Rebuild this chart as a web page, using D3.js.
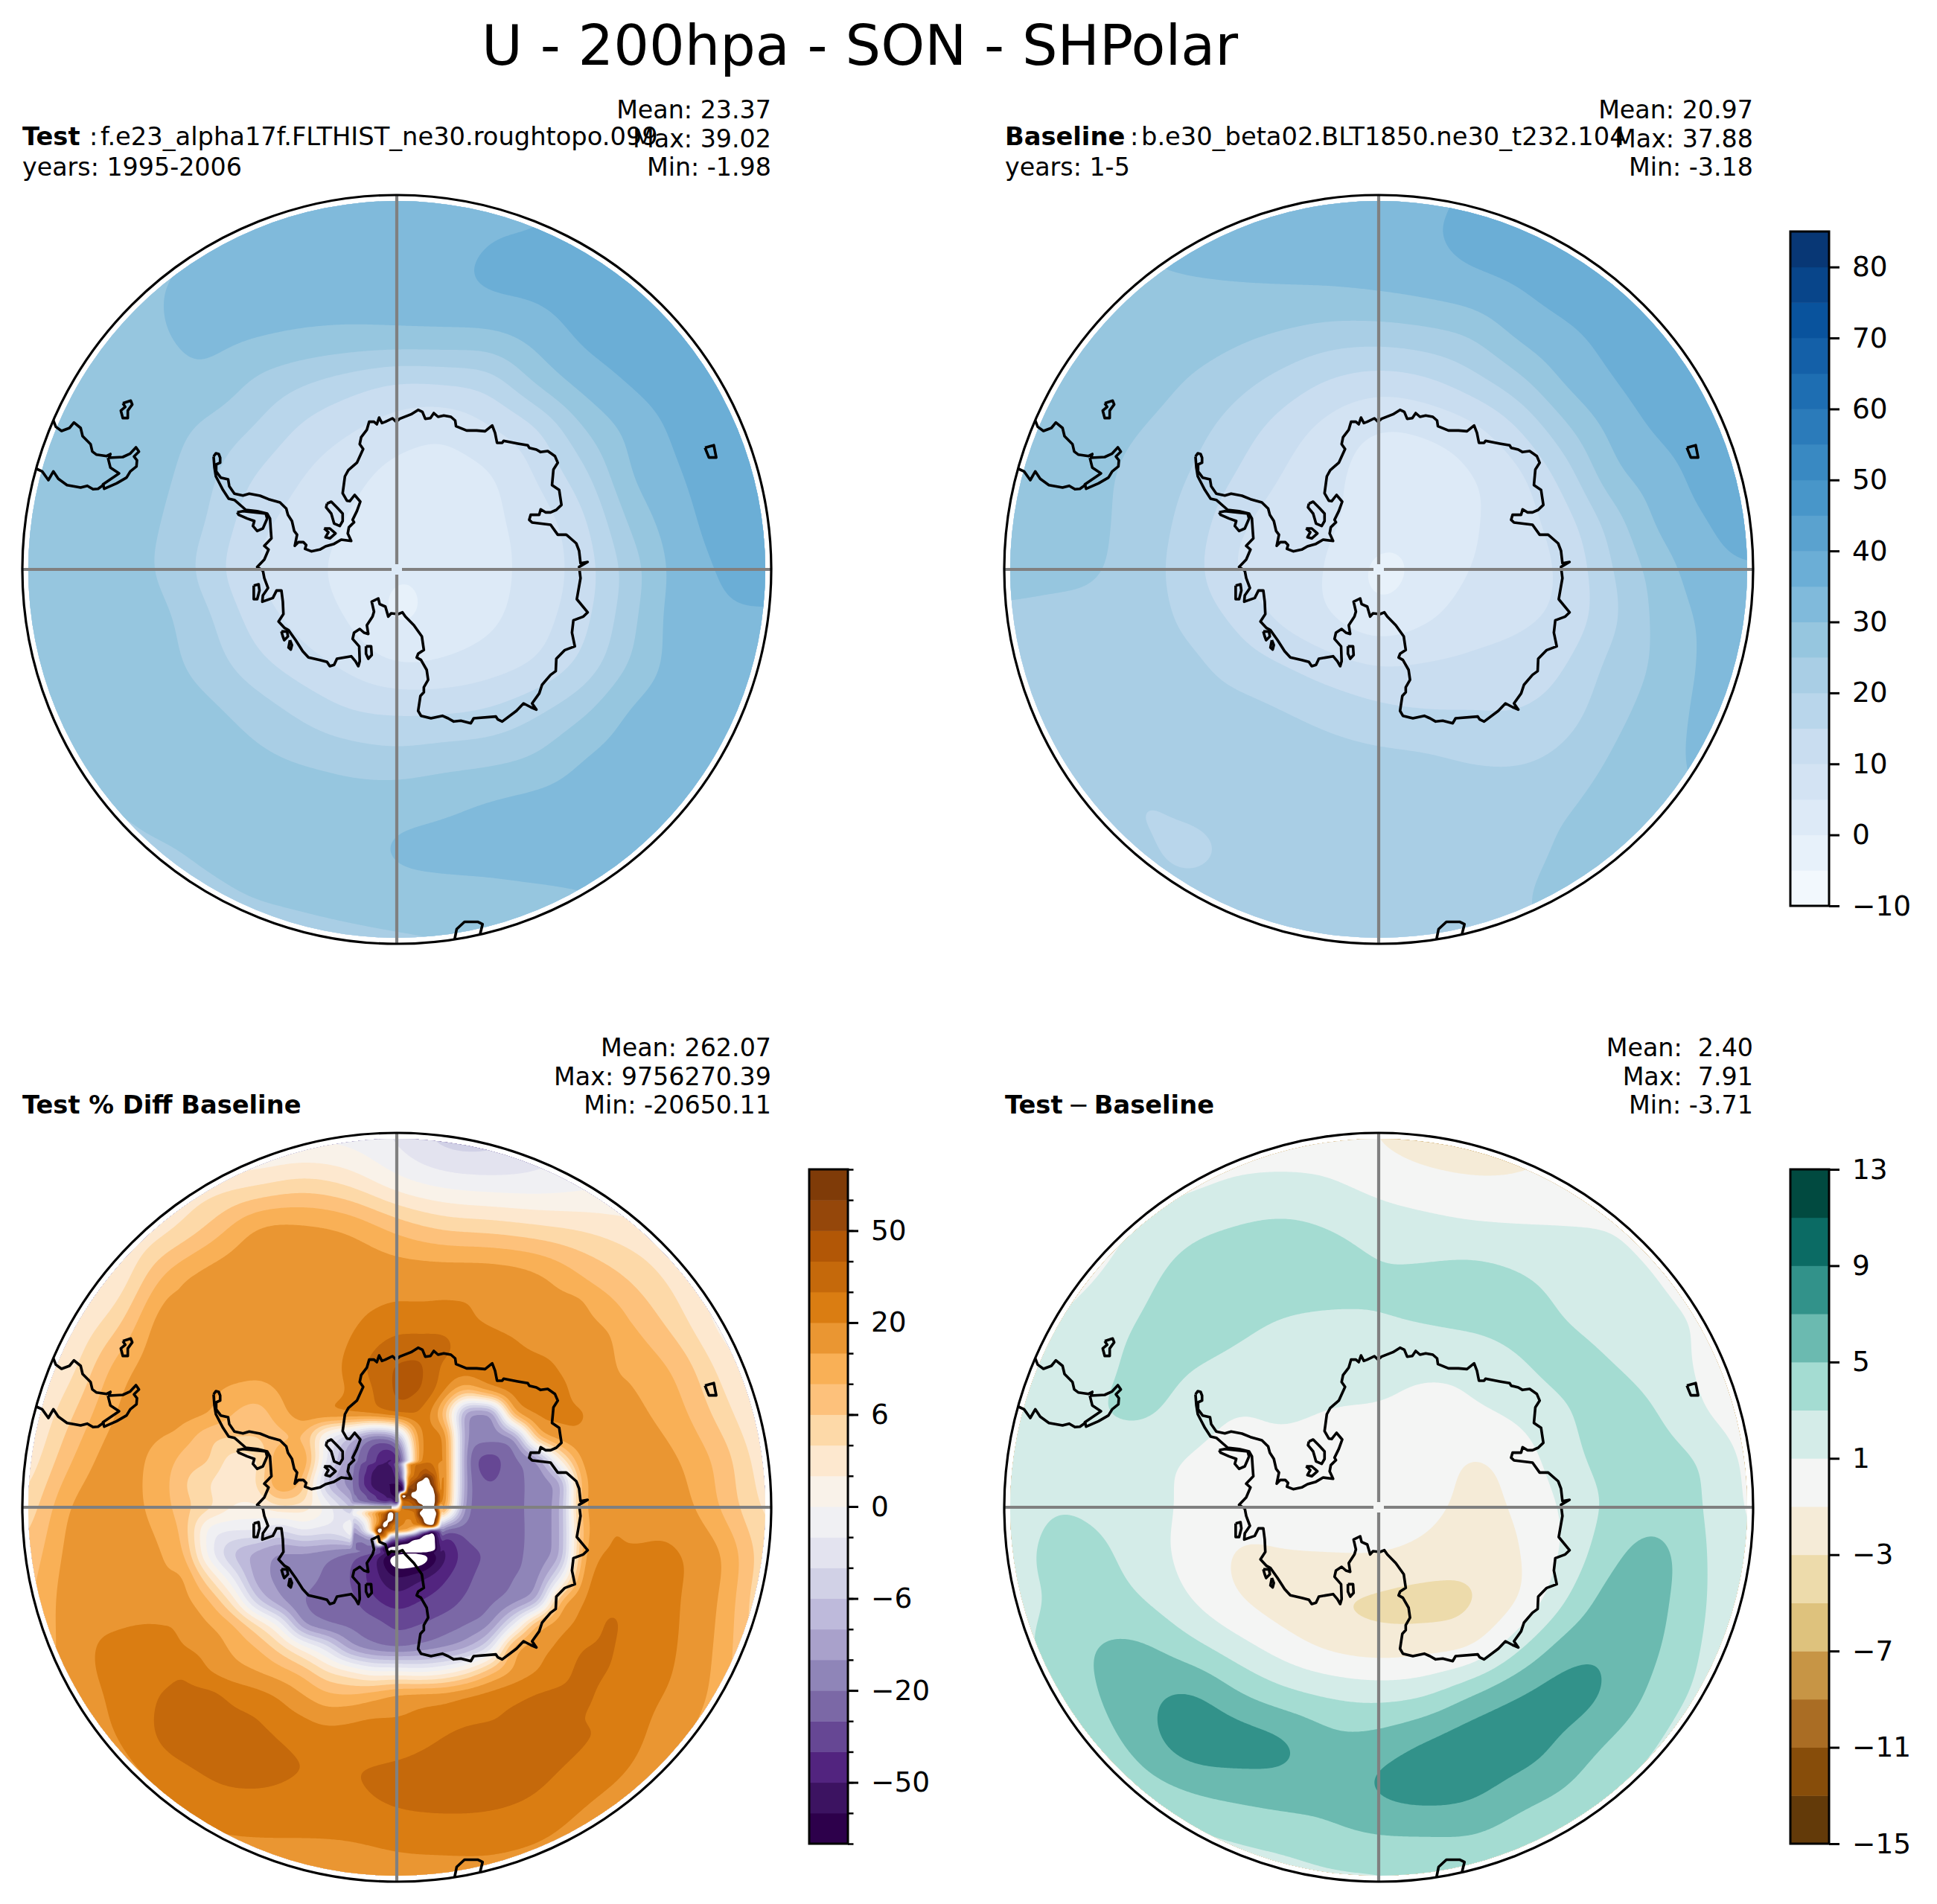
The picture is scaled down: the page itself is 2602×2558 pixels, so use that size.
<!DOCTYPE html>
<html>
<head>
<meta charset="utf-8">
<script src="https://cdn.jsdelivr.net/npm/d3@7"></script>
<style>
  html, body { margin: 0; background: #fff; }
  text { font-family: "DejaVu Sans"; fill: #000; white-space: pre; }
</style>
</head>
<body>
<div id="chart"></div>
<script>
// contour levels
const valueLevels = [-10,-5,0,5,10,15,20,25,30,35,40,45,50,55,60,65,70,75,80,85];
const valueTicks = [-10,0,10,20,30,40,50,60,70,80];
const pctLevels = [-90,-70,-50,-40,-30,-20,-15,-10,-6,-4,-2,0,2,4,6,10,15,20,30,40,50,70,90];
const pctTicks = [-50,-20,-6,0,6,20,50];
const diffLevels = [-15,-13,-11,-9,-7,-5,-3,-1,1,3,5,7,9,11,13];
const diffTicks = [-15,-11,-7,-3,1,5,9,13];

// band colours, lowest band first
const pctColors = ["#2d004b","#3c1361","#52247f","#664794","#7b68a6","#8f85b8","#a9a1cb","#bebadb","#d1d1e6","#e3e3ef","#f0f0f3",
  "#f9f2e9","#fde8cf","#fdd9a8","#fdc17b","#f9b056","#ea9632","#da7d12","#c5690b","#b25706","#95470a","#7f3b08"];
const diffColors = ["#633a09","#874d0a","#aa6d24","#c79545","#dec27d","#eddbab","#f5ebd7","#f4f5f4","#d4ece8","#a4dcd2","#6bbab0","#32928a","#0b6b64","#014a40"];

// fields, 17x17 nodes over the map square, top row first
const testGrid = [
[28,28,28.5,29,29.5,30.5,31.5,32,32.5,33,33.5,34,35.5,36.5,37,37,37],
[27.5,27.5,28,29,30.5,31.5,32,32.5,33,33.5,35,35.5,36.5,37,37.5,37.5,37.5],
[27,27,28,30,31,31.5,32,32,32.5,33.5,35.5,36,37,37.5,38,38,38],
[26.5,26.5,28,29.8,31,30.5,29.5,29,29,29,29,32,36,37,38,38.5,38.5],
[26,26,27,28.5,28.8,24,20.5,17.5,15,15.5,17.5,26,32,35.5,37.5,38.5,38.5],
[26,26,26.5,27,23.5,19.5,14,10.5,7.5,6,9.5,14.5,25,31.5,36,38.5,38.5],
[27,27,27,26,21,14.7,10,6.5,3.5,3.5,4.5,10.5,18.5,30,34.5,38,38.5],
[27.5,27.5,27,25,19.5,11.5,8,4.5,2.5,2,4,7.5,14,26,33,37,38],
[28,27.5,26.5,24.5,17.5,10,6.5,3.5,0.5,1.5,3.5,7,12.5,22.5,32,35.5,37],
[28,27.5,27,26,20.5,12.5,8,4.5,-1,2,4,8,13.5,23.5,32.5,34.5,34.5],
[28,28,27.5,26.5,22.5,16.5,12,8.5,5,5.5,7.5,10.5,16.5,25.5,32,33.5,34],
[28,28,28,27.5,26,22.5,18.5,15,14,14.2,15.5,19,24,30.5,32.5,33,33.5],
[27,27.5,28,28,27.5,26,24,22.5,21.5,22.5,23.3,25.5,30,32,33,33,33],
[26,26,25.2,27,28,28.5,28.5,27.5,28,29,30.5,31.5,32,32,32,32,32],
[24,24,24,24.5,26,27,27.5,28.5,30.5,31,31,31.5,31.5,31,30.5,30.5,30.5],
[23,23,23,23,24,25.2,26,27,28,28.5,29,29.3,29.8,30.3,30.5,30.5,30.5],
[22.5,22.5,22.5,22.5,22.5,22.5,23,23.5,24,24.5,25.5,27,28.5,30,30.5,30.5,30.5]
];
const baselineGrid = [
[29,30,31,31.5,32,32.5,33,33,33.5,34,35.5,37,37.5,38,38,38,38],
[29,29,29.5,30.5,32,32.5,32.8,33,33.5,34.2,36.5,37.5,38,38,38,38,38],
[28,28.5,28.8,29,29.2,29.5,29.7,29.9,30.5,31.5,33,35,37,38,38,38,38],
[27.5,27.8,28,28,27.5,26,24.3,22.6,22.3,23.3,25.5,31,34,36.5,38,38,38],
[27.5,27.5,27.5,27,24.5,21.5,18,14.3,12.5,13.9,18,23.5,30.7,34.8,37.5,38.5,38.5],
[27,27,26.8,24.9,21.8,17.5,12.5,8,5,5.7,8.5,15,24,31.5,35.8,38,38],
[26.5,26.5,26,23,19.8,14.5,9.5,6,3,3,4.8,9,17.5,28.5,32.5,37,38.5],
[26,26,25.8,22.5,18,11,7.5,5.6,2.5,2,4.5,7.8,13,22.5,31,34.8,38],
[26,26,25.4,22,17,9.5,7,4.5,-1.5,1.5,5.2,8,11,20,27.5,33,34.5],
[24.5,24,23.5,22,18.5,13.5,8.5,5,1.5,4,7.5,9,11.5,19,26.5,31,32],
[23.5,23,23,22,21,17.5,14.7,11.5,9.5,10.2,11,12,14.7,21.5,26,31,32],
[23,23,22.5,22,22,21.5,20,18,16,15,15,15,17.5,23.5,27,31.5,32],
[22,22,22,22,22,22,22,21.5,21,20.5,19.3,19,21.3,25.5,28,31.5,32],
[22,22,21.5,19.8,21,22,22.5,22.5,23,23,23,23.5,24.5,27,28.5,30,31],
[22,22,21.5,20.5,19,21,22,22.5,23,23,23,24,25.5,27,28.5,29,30],
[22,22,22,21.5,21.5,22,22.5,22.5,23,23,23.5,24.7,26,27.5,28,29,30],
[22,22,22,22,22,22,22.5,23,23,23.5,24,24.5,25.5,27,28,29,30]
];
const diffGrid = [
[0,0,0,0,0,0,0.2,0,-1.2,-2,-2,-2,-1.2,0,0,0,0],
[0,0,0,0,0.5,1.1,1.2,1,0.2,-0.5,-0.9,-0.8,-0.2,0,0,0,0],
[0,0,0,1.4,2.5,3.1,3.4,2.9,2.1,1.7,1.3,1.1,1,0.9,0.3,0,0],
[0,0,0.9,2.5,3.7,4,4,3.8,3.2,3.3,3.6,3.1,2.3,1.6,0.9,0,0],
[0,0.9,2,3.2,3.8,3.4,2.9,2.7,2.9,3.2,3.5,3.6,3,2.2,1.5,0.7,0],
[0.7,1.4,2.4,3.6,3.1,2.5,2.1,1.8,1.6,1.3,1.5,2.8,3.6,3.1,2,0.6,0],
[1.2,1.8,2.9,3.3,2,0.95,1.4,0.9,0.8,0.5,0.7,1.4,2.8,3.9,3,1,0],
[0.9,1.5,1.9,1.6,0.8,0.3,0,-0.8,-0.9,0,-1.2,-0.1,2.3,3.7,3.8,2.7,0.3],
[1.5,2.9,2.6,1.9,0.5,-0.1,-0.1,0,0.3,-0.4,-1.5,-0.7,1.4,3.5,4.2,2.9,0.5],
[2,3.5,3.4,2,0.2,-1.2,-1.1,-1,-1,-1.6,-2.2,-1.1,1.4,4.6,5.6,3,1],
[2,3.2,3.9,3,1,-0.9,-2,-2.9,-3.4,-3.7,-3.2,-1,3,6,5.5,3,1],
[2,3.7,5.1,5.3,3.7,1.8,0,-1.4,-1.9,-1.6,-1,2.7,6,6.7,5.1,2.7,1],
[1.5,3,5,6.5,7.2,5.2,3.6,2.7,2.3,2.8,5,7,7.9,6.6,4.2,2.3,1],
[1,2,3.9,6.2,8.2,8,7.3,5.6,5.8,7.1,8.2,8.2,6.6,4.8,3,1.5,1],
[1,1,2,4,5.3,5.9,6.2,6,7.3,8,7.6,6.2,5,3.2,2,1.2,1],
[1,1,1,1.5,2.7,3.3,3.8,4.5,5,5.05,5,4,2.9,1.7,1,1,1],
[1,1,1,1,1.5,2,2.2,2.5,2.6,2.9,3,2.8,2,1.5,1,1,1]
];
const pctGrid = [
[-1,-1,-1,-1,-1,-1,-1,-1,-2.5,-5,-5,-3,-1,0,0,1,1],
[0,0,1,2,2.5,3,4.2,3,0.3,-1.2,-1.7,-1.6,-0.9,0,0,0,0],
[0,0,1.5,3,6.5,15.5,16,14,8.5,5.5,5,4.2,3.5,2.5,1.5,0.5,0],
[0,1,2,10,17,18,18,18.5,18,18,18,15.8,9.5,5.5,3,1,0.5],
[0,1.8,5,18,18,18,18,19.5,25,24,21.5,18,15.5,10,4.8,1,0.5],
[1,3,12,18,17.5,15.3,18,20.5,42,26,26,25,16.5,14,9,3,0.5],
[1,5.5,15.5,18,15.5,8,18,22,28,8,-18,18,21,16.5,12,4.8,1],
[2,9.5,18,12,6,5,15,-15,-45,25,-35,-12,18,18,15.5,8,2],
[4,15.5,18,12,4.5,2.5,6,-3,0,60,-25,-20,16,17,17.5,9,3],
[6,17,18,15.5,3,-12,-17,-25,-100,-45,-28,-17,16,21,21,15,4],
[8,18,18,18,14,-4,-22,-25,-38,-36,-25,-12,21,28,20.5,14,3],
[8,18,22,24,18,10,1,-18,-22,-18,-8,18,30,28,20,13,3],
[9,18,21,31,31.5,23,15,8,15,16.5,23,30.5,32,24,19,12,3],
[12,18,19.5,32,34,33,28,26,25,30.2,34,35,31,23,16,10,3],
[15,15,16,21,29,30.5,29,29,34,36,35,31,23,18.5,14,10,3],
[15,15,15,17,19.5,20.5,20.5,21,23,24,24,21.5,18,16,13,10,5],
[15,15,15,15,16,16,16.5,17,18,18,18,17,16,15,13,10,5]
];
// finer nodes for the % diff field around the pole, 21x21 over +-0.625 of the radius
const pctMidGrid = [
[10,14,17,18,18,18,18,18,18.5,18.5,18,18,18,18,18,17,15.8,13,9.5,7,5.5],
[14,17,18,18,18,18,18,18,18.5,19,19.5,19.5,19.8,19.8,19,18,17.5,16,14.5,10.5,8],
[18,18,18,18,18,18,18,18,19,22,25,24.5,23.5,21,19.5,18.5,18,17.5,16,14,11],
[18,18,18,18,18,18,18,18,20.5,28,33,34,33,24,23,21,18.5,18,17,15.8,13],
[18,18,18,17.5,17,17,18,18,23,33,41,42,28,25,25,25.5,24,19.5,17.5,16,14],
[18,17.5,16,14,13,15.5,18,18.5,21,30,42,41,22,10,19,24,24,22,18,16.5,14.5],
[17,16.5,15,10,8,13,18,20,23,27,32,28,9,-16,-18,12,22,21,20.5,17,16],
[15.5,12,7,6,6,9,10,-1,-6,-20,-12,22,25,-17,-18,-15,8,18,19,17.5,16.5],
[12,8,6,3,3.5,15,15,-2,-15,-38,-60,25,26,-18,-35,-22,-15,2,17,18,18],
[10,6,4,2.5,4,15,8,-6,-18,-35,-80,60,25,-17,-30,-23,-18,-12,15,17,18],
[12,7,4.5,2,1.5,3.5,3,-0.5,-6,-20,0,45,20,-20,-25,-22,-18,-10,15,17.5,17.5],
[15.5,7,-1,-2,-2,-4,-2,-3,0,30,30,25,-30,-25,-22,-22,-18,-10,12,19,21],
[16,9,-1,-6,-12,-16,-16,-18,-25,-45,-120,-120,-55,-35,-28,-22,-18,-10,14,21,21],
[18,14,4,-2,-12,-16,-18,-22,-30,-45,-70,-55,-42,-32,-25,-20,-16,-2,17,24,25],
[18,16,10,3,-5,-14,-20,-23,-27,-38,-45,-40,-35,-28,-22,-17,-8,10,20,28,28],
[21,18,15,10,4,-1,-14,-20,-22,-26,-32,-30,-25,-20,-15,-2,10,18,23,31,29],
[24,20,18,14,10,5,1,-3,-12,-18,-20,-18,-15,-10,-3,12,18,22,30,31,28],
[30,28,20,17,15,12,8,4,2,0,0,-0.5,0.5,3,8,16,20,26,33,30,27],
[31,32,32.5,27,23,19,15,11,10,12,15,16,16.5,19,23,27,30.5,32,32,27,24],
[32,33,33,32,30,25,20.5,18,19,20,20,22,24,27,29,32,33,33,30,27,25],
[31,33,34,34,33,31,28,25,25,25,25,27,30.2,33,34,35,35,33,31,27,23]
];
// innermost nodes for the % diff field, 17x17 over +-0.125 of the radius
const pctCoreGrid = [
[-15,-20,-30,-35,-38,-42,-50,-40,-20,-3,15,25,30,30,28,22,6],
[-18,-22,-32,-40,-45,-55,-55,-50,-30,-8,14,28,35,38,32,22,6],
[-18,-24,-35,-42,-52,-60,-60,-60,-38,-12,12,30,40,45,38,25,8],
[-20,-25,-36,-45,-55,-62,-65,-65,-45,-15,18,35,50,95,60,28,9],
[-20,-25,-36,-45,-55,-62,-70,-70,-70,-40,25,60,120,120,75,30,10],
[-20,-24,-32,-40,-48,-55,-62,-72,-90,-70,80,70,120,120,110,35,10],
[-18,-20,-25,-32,-38,-45,-50,-65,-75,120,70,120,120,120,120,50,12],
[-15,-17,-20,-25,-30,-35,-40,-35,-60,30,40,50,120,120,120,50,12],
[-5,-3,-3,-3,-4,-4,-4,-3,0,30,35,40,50,120,120,30,-5],
[0,0,2,6,12,25,40,120,35,25,25,30,95,120,120,60,-5],
[-5,-4,-1,3,10,20,60,120,28,22,20,25,50,120,120,40,-12],
[-8,-7,-4,1,10,30,120,40,25,20,18,20,25,70,110,10,-25],
[-15,-12,-6,-1,10,120,40,25,15,12,8,2,-5,-12,-35,-30,-28],
[-20,-18,-15,-10,-8,30,20,-5,-8,-12,-20,-35,-60,-120,-120,-50,-40],
[-20,-20,-20,-18,-15,10,-10,-40,-55,-65,-80,-120,-120,-120,-120,-60,-42],
[-20,-20,-22,-22,-25,-35,-65,-100,-100,-120,-120,-120,-120,-120,-120,-65,-45],
[-20,-20,-22,-25,-28,-40,-80,-120,-120,-120,-120,-120,-120,-120,-85,-55,-42]
];

// coastlines as traced on crops of the picture
const antarctica = [[97,340],[105,327],[115,330],[120,345],[120,365],[106,372],[106,400],[122,425],[148,432],[152,460],[170,490],[200,497],[222,490],[260,498],[290,512],[330,525],[352,550],[358,575],[372,600],[380,640],[390,655],[382,700],[395,685],[412,685],[422,697],[418,712],[440,722],[470,715],[490,702],[520,692],[545,675],[580,680],[568,650],[572,625],[590,605],[585,595],[600,560],[612,522],[592,495],[575,520],[565,518],[550,488],[558,420],[570,395],[600,365],[622,310],[610,290],[615,262],[635,232],[643,200],[660,200],[670,210],[678,183],[688,205],[700,200],[725,186],[738,200],[750,188],[790,170],[815,152],[830,160],[840,188],[858,185],[870,165],[885,180],[905,175],[930,180],[945,195],[948,218],[985,235],[1020,235],[1050,238],[1075,215],[1085,245],[1092,285],[1110,285],[1115,277],[1165,288],[1200,295],[1205,305],[1230,312],[1245,322],[1270,318],[1295,338],[1305,365],[1290,392],[1285,455],[1310,475],[1318,535],[1300,555],[1280,565],[1262,565],[1245,553],[1240,575],[1210,575],[1205,595],[1215,606],[1280,615],[1305,655],[1335,655],[1370,690],[1380,720],[1385,770],[1410,765],[1380,785],[1385,830],[1372,915],[1410,968],[1395,985],[1360,1000],[1355,1050],[1365,1105],[1330,1120],[1300,1155],[1298,1205],[1280,1220],[1250,1260],[1240,1295],[1215,1335],[1230,1360],[1210,1350],[1185,1335],[1160,1365],[1110,1408],[1095,1400],[1088,1388],[1010,1395],[1000,1415],[965,1405],[940,1408],[920,1395],[900,1385],[860,1395],[825,1385],[815,1365],[823,1305],[835,1290],[835,1270],[850,1240],[845,1200],[825,1160],[810,1150],[815,1135],[835,1120],[828,1065],[800,1020],[770,985],[760,968],[745,975],[720,972],[710,985],[700,945],[680,935],[675,912],[652,925],[660,965],[655,985],[635,1020],[640,1055],[625,1050],[610,1035],[590,1050],[585,1075],[608,1105],[610,1165],[605,1185],[595,1165],[580,1145],[530,1155],[520,1180],[505,1185],[495,1168],[470,1160],[430,1150],[410,1125],[385,1080],[360,1040],[345,1030],[325,1005],[342,975],[340,925],[335,880],[318,880],[305,910],[268,925],[270,900],[288,870],[275,830],[270,800],[250,785],[275,755],[290,715],[275,700],[300,670],[298,640],[295,590],[285,570],[250,560],[210,555],[170,515],[150,510],[130,475],[105,420],[100,385],[97,340]];
const antarcticIslands = [
[[180,565],[200,560],[280,570],[285,590],[270,630],[250,640],[235,620],[240,600],[215,590],[185,575],[180,565]],
[[495,530],[510,522],[530,545],[550,570],[550,600],[540,620],[520,610],[510,570],[492,545],[495,530]],
[[485,630],[505,630],[525,650],[505,670],[490,665],[500,645],[485,630]],
[[238,860],[255,855],[258,880],[250,915],[238,915],[238,860]],
[[335,1045],[355,1045],[358,1065],[345,1080],[340,1065],[335,1045]],
[[365,1080],[372,1100],[368,1118],[360,1110],[365,1080]],
[[632,1105],[650,1105],[652,1140],[640,1155],[632,1135],[632,1105]]
];
const southAmerica = [
[[215,195],[225,220],[248,237],[280,225],[298,203],[325,225],[333,258],[365,290],[372,320],[388,332],[430,338],[445,330],[440,345],[495,342],[525,328],[548,303],[560,320],[540,340],[552,355],[550,380],[525,400],[510,425],[470,448],[420,470],[415,452],[480,408],[445,385],[435,345]],
[[148,390],[170,400],[195,435],[215,400],[235,430],[270,455],[325,465],[352,458],[375,472],[395,470],[420,452]],
[[495,125],[527,115],[533,130],[515,155],[515,185],[495,185],[487,155],[505,140],[495,125]]
];
const farIslands = [
[[1410,535],[1428,530],[1433,555],[1418,555],[1410,535]],
[[897,1545],[902,1520],[918,1505],[945,1505],[955,1510],[950,1530]]
];

const W = 2602, H = 2558;
const R = 503, fillR = 495;   // map edge and edge of the filled data
const samples = 504;

const svg = d3.select("#chart").append("svg").attr("width", W).attr("height", H);

// scales from the three crops the coast was traced on to map units (-1..1)
const mapTo = (lo, hi) => d3.scaleLinear().domain([lo, hi]).range([-1, 1]);
const coastSets = [
  {lines:[antarctica, ...antarcticIslands], x:mapTo(740-1314.4,740+1314.4), y:mapTo(795-1509,795+1509)},
  {lines:southAmerica, x:mapTo(90,3108), y:mapTo(-714,2304)},
  {lines:farIslands, x:mapTo(779.5-766,779.5+766), y:mapTo(784-766,784+766)}
];

function bandColors(scheme, n){
  const ramp = d3.scaleLinear().domain(scheme.map((_,i)=>i/(scheme.length-1))).range(scheme);
  return d3.range(n).map(i=>ramp((i+0.5)/n));
}
const blues = bandColors(d3.schemeBlues[9], valueLevels.length-1);

// cubic between p1 and p2; with limit on it can't overshoot across the steep rims
function hermite(p0,p1,p2,p3,t,limit){
  const d = p2-p1;
  let m1 = (p2-p0)/2, m2 = (p3-p1)/2;
  if(limit){
    if(m1*d<=0) m1 = 0;
    if(m2*d<=0) m2 = 0;
    if(Math.abs(m1)>3*Math.abs(d)) m1 = 3*d;
    if(Math.abs(m2)>3*Math.abs(d)) m2 = 3*d;
  }
  const t2 = t*t, t3 = t2*t;
  return (2*t3-3*t2+1)*p1+(t3-2*t2+t)*m1+(-2*t3+3*t2)*p2+(t3-t2)*m2;
}

function makeSampler(rows, extent, toBand, limit){
  const n = rows.length;
  const vals = rows.map(r=>r.map(toBand));
  const step = 2*extent/(n-1);
  const c = i=>Math.max(0,Math.min(n-1,i));
  return (u,v)=>{
    const fx = Math.max(0,Math.min(n-1,(u+extent)/step)), fy = Math.max(0,Math.min(n-1,(v+extent)/step));
    const ix = Math.min(n-2,Math.floor(fx));
    const iy = Math.min(n-2,Math.floor(fy));
    const tx = fx-ix, ty = fy-iy;
    const col = [-1,0,1,2].map(j=>{
      const r = vals[c(iy+j)];
      return hermite(r[c(ix-1)],r[c(ix)],r[c(ix+1)],r[c(ix+2)],tx,limit);
    });
    return hermite(col[0],col[1],col[2],col[3],ty,limit);
  };
}

// grids: coarsest first, later ones are blended in over their own square.
// each layer gets its own blur so the coarse node spacing doesn't show
function fieldValues(grids, levels){
  const toBand = d3.scaleLinear().domain(levels).range(levels.map((_,i)=>i));
  const pos = d3.scaleLinear().domain([0,samples-1]).range([-1,1]);
  const values = new Float64Array(samples*samples);
  grids.forEach((g,k)=>{
    const f = makeSampler(g.rows,g.extent,toBand,k>0);
    const layer = new Float64Array(samples*samples);
    for(let j=0;j<samples;j++) for(let i=0;i<samples;i++) layer[j*samples+i] = f(pos(i),pos(j));
    if(g.blur) d3.blur2({data:layer,width:samples,height:samples},g.blur);
    for(let j=0;j<samples;j++) for(let i=0;i<samples;i++){
      const d = k===0 ? 0 : Math.max(Math.abs(pos(i)),Math.abs(pos(j)))/g.extent;
      if(d>=1) continue;
      const w = d<0.9 ? 1 : (1-d)/0.1;
      const at = j*samples+i;
      values[at] += (layer[at]-values[at])*w*w*(3-2*w);
    }
  });
  return values;
}

function drawMap(cfg){
  const g = svg.append("g").attr("transform",`translate(${cfg.cx},${cfg.cy})`);
  const clipData = `clip-data-${cfg.id}`, clipMap = `clip-map-${cfg.id}`;
  g.append("clipPath").attr("id",clipData).append("circle").attr("r",fillR);
  g.append("clipPath").attr("id",clipMap).append("circle").attr("r",R);

  const cell = d3.scaleLinear().domain([0.5,samples-0.5]).range([-R,R]);
  const project = d3.geoTransform({point(x,y){ this.stream.point(cell(x),cell(y)); }});
  const path = d3.geoPath(project);
  const values = fieldValues(cfg.grids, cfg.levels);
  const contours = d3.contours().size([samples,samples]);
  const bands = cfg.colors.map((c,i)=>({t:i,c}));
  bands.push({t:cfg.colors.length,c:"#fff"});   // off the scale stays white

  g.append("g").attr("clip-path",`url(#${clipData})`)
    .selectAll("path").data(bands).join("path")
    .attr("fill",d=>d.c)
    .attr("d",d=>path(contours.contour(values,d.t)));

  const mapX = d3.scaleLinear().domain([-1,1]).range([-R,R]);
  const coast = d3.line();
  const coastG = g.append("g").attr("clip-path",`url(#${clipMap})`);
  coastSets.forEach(set=>{
    coastG.selectAll(null).data(set.lines).join("path")
      .attr("fill","none").attr("stroke","#000").attr("stroke-width",3.6).attr("stroke-linejoin","round")
      .attr("d",d=>coast(d.map(p=>[mapX(set.x(p[0])),mapX(set.y(p[1]))])));
  });

  // meridians stop just short of the pole
  const gap = 7;
  const spokes = [[-R,0,-gap,0],[gap,0,R,0],[0,-R,0,-gap],[0,gap,0,R]];
  g.selectAll("line.grid").data(spokes).join("line").attr("class","grid")
    .attr("x1",d=>d[0]).attr("y1",d=>d[1]).attr("x2",d=>d[2]).attr("y2",d=>d[3])
    .attr("stroke","#808080").attr("stroke-width",4.2);

  g.append("circle").attr("r",R).attr("fill","none").attr("stroke","#000").attr("stroke-width",3.2);
}

function drawStats(right, baselines, lines){
  svg.append("g").selectAll("text").data(lines).join("text")
    .attr("x",right).attr("y",(d,i)=>baselines[i])
    .attr("text-anchor","end").attr("font-size",33.3).text(d=>d);
}

function drawColorbar(cfg){
  const n = cfg.levels.length-1;
  const y = d3.scaleLinear().domain(cfg.levels).range(cfg.levels.map((_,i)=>cfg.h-i*cfg.h/n));
  const g = svg.append("g").attr("transform",`translate(${cfg.x},${cfg.y})`);
  g.selectAll("rect.band").data(cfg.colors).join("rect").attr("class","band")
    .attr("x",0).attr("width",cfg.w)
    .attr("y",(d,i)=>y(cfg.levels[i+1])).attr("height",cfg.h/n+0.5)
    .attr("fill",d=>d);
  if(cfg.minor){
    const minor = g.append("g").attr("transform",`translate(${cfg.w},0)`)
      .call(d3.axisRight(y).tickValues(cfg.levels).tickSize(7.5).tickFormat(""));
    minor.select(".domain").remove();
    minor.selectAll("line").attr("stroke-width",2.5);
  }
  const axis = g.append("g").attr("transform",`translate(${cfg.w},0)`)
    .call(d3.axisRight(y).tickValues(cfg.ticks).tickSize(14).tickPadding(17).tickFormat(d3.format("d")));
  axis.select(".domain").remove();
  axis.selectAll("line").attr("stroke-width",3);
  axis.selectAll("text").attr("font-size",37.5).attr("font-family","DejaVu Sans");
  g.append("rect").attr("width",cfg.w).attr("height",cfg.h)
    .attr("fill","none").attr("stroke","#000").attr("stroke-width",3);
}

// title
svg.append("text").attr("x",1155).attr("y",87).attr("text-anchor","middle").attr("font-size",75)
  .text("U - 200hpa - SON - SHPolar");

// panel headers: bold name, colon, then the case name
function drawHeader(x, name, colonX, restX, rest, baseline){
  const t = svg.append("text").attr("y",baseline).attr("font-size",33.7);
  t.append("tspan").attr("x",x).attr("font-weight","bold").text(name);
  t.append("tspan").attr("x",colonX).text(":");
  t.append("tspan").attr("x",restX).text(rest);
}
drawHeader(30,"Test",120,135,"f.e23_alpha17f.FLTHIST_ne30.roughtopo.099",195);
svg.append("text").attr("x",30).attr("y",236).attr("font-size",33.3).text("years: 1995-2006");
drawHeader(1350,"Baseline",1518,1533,"b.e30_beta02.BLT1850.ne30_t232.104",195);
svg.append("text").attr("x",1350).attr("y",236).attr("font-size",33.3).text("years: 1-5");
svg.append("text").attr("x",30).attr("y",1496).attr("font-size",33.7).attr("font-weight","bold").text("Test % Diff Baseline");
const tb = svg.append("text").attr("x",1350).attr("y",1496).attr("font-size",33.7);
tb.append("tspan").attr("font-weight","bold").text("Test");
tb.append("tspan").attr("dx",7).text("\u2212");
tb.append("tspan").attr("dx",7).attr("font-weight","bold").text("Baseline");

drawStats(1036,[159,198,236],["Mean: 23.37","Max: 39.02","Min: -1.98"]);
drawStats(2355,[159,198,236],["Mean: 20.97","Max: 37.88","Min: -3.18"]);
drawStats(1036,[1419,1458,1496],["Mean: 262.07","Max: 9756270.39","Min: -20650.11"]);
drawStats(2355,[1419,1458,1496],["Mean:  2.40","Max:  7.91","Min: -3.71"]);

drawMap({id:"test",cx:533,cy:765,levels:valueLevels,colors:blues,grids:[{rows:testGrid,extent:1,blur:8}]});
drawMap({id:"base",cx:1852,cy:765,levels:valueLevels,colors:blues,grids:[{rows:baselineGrid,extent:1,blur:8}]});
drawMap({id:"pct",cx:533,cy:2025,levels:pctLevels,colors:pctColors,
  grids:[{rows:pctGrid,extent:1,blur:8},{rows:pctMidGrid,extent:0.625,blur:3},{rows:pctCoreGrid,extent:0.125}]});
drawMap({id:"diff",cx:1852,cy:2025,levels:diffLevels,colors:diffColors,grids:[{rows:diffGrid,extent:1,blur:8}]});

drawColorbar({x:2405,y:311,w:52,h:906,levels:valueLevels,colors:blues,ticks:valueTicks});
drawColorbar({x:1087,y:1571,w:52,h:906,levels:pctLevels,colors:pctColors,ticks:pctTicks,minor:true});
drawColorbar({x:2405,y:1571,w:52,h:906,levels:diffLevels,colors:diffColors,ticks:diffTicks});
</script>
</body>
</html>
